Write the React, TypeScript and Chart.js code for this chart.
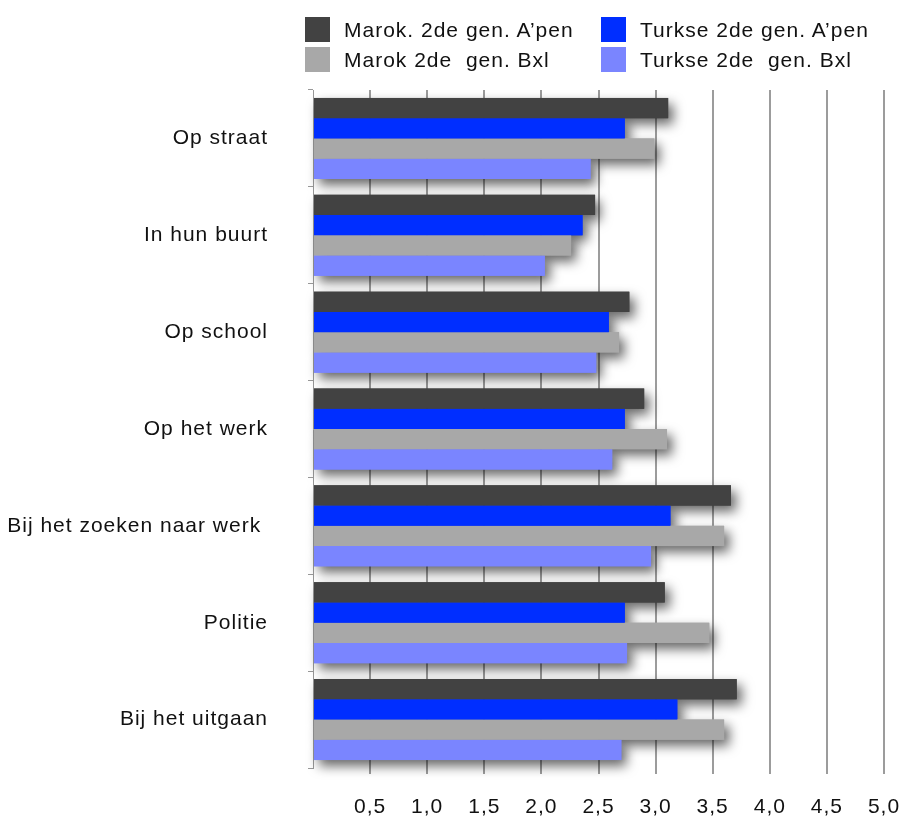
import React, { useEffect, useRef } from 'react';
import { Chart, registerables } from 'chart.js';

Chart.register(...registerables);

// ---------- data ----------
const categories = [
  'Op straat',
  'In hun buurt',
  'Op school',
  'Op het werk',
  'Bij het zoeken naar werk ',
  'Politie',
  'Bij het uitgaan',
];
const marokAntwerpen = [3.11, 2.47, 2.77, 2.9, 3.66, 3.08, 3.71];
const turkseAntwerpen = [2.73, 2.36, 2.59, 2.73, 3.13, 2.73, 3.19];
const marokBrussel = [2.99, 2.26, 2.68, 3.1, 3.6, 3.47, 3.6];
const turkseBrussel = [2.43, 2.03, 2.48, 2.62, 2.96, 2.75, 2.7];
const seriesNames = [
  'Marok. 2de gen. A\u2019pen',
  'Turkse 2de gen. A\u2019pen',
  'Marok 2de  gen. Bxl',
  'Turkse 2de  gen. Bxl',
];
const xTickLabels = ['', '0,5', '1,0', '1,5', '2,0', '2,5', '3,0', '3,5', '4,0', '4,5', '5,0'];

// ---------- styles ----------
const seriesColors = ['#424242', '#002EFF', '#A8A8A8', '#7A85FF'];
const FONT_FAMILY = '"Liberation Sans", Arial, Helvetica, sans-serif';
const FONT_SIZE = 21;
const LETTER_SPACING = '1px';

const letterSpacingPlugin = {
  id: 'letterSpacing',
  beforeUpdate(chart: any) {
    (chart.ctx as any).letterSpacing = LETTER_SPACING;
  },
  beforeDraw(chart: any) {
    (chart.ctx as any).letterSpacing = LETTER_SPACING;
  },
};

// Draws soft drop shadows for every bar first (using the bar elements' own geometry),
// so that the bars themselves are painted cleanly on top afterwards.
const shadowPlugin = {
  id: 'barShadow',
  beforeDatasetsDraw(chart: any) {
    const ctx = chart.ctx;
    ctx.save();
    ctx.shadowColor = 'rgba(0,0,0,0.6)';
    ctx.shadowBlur = 12;
    ctx.shadowOffsetX = 5;
    ctx.shadowOffsetY = 6;
    chart.data.datasets.forEach((ds: any, di: number) => {
      const meta = chart.getDatasetMeta(di);
      ctx.fillStyle = ds.backgroundColor;
      meta.data.forEach((el: any) => {
        const p = el.getProps(['x', 'y', 'base', 'height'], true);
        const left = Math.min(p.x, p.base);
        const w = Math.abs(p.x - p.base);
        ctx.fillRect(left, p.y - p.height / 2, w, p.height);
      });
    });
    ctx.restore();
  },
};

export default function App() {
  const canvasRef = useRef<HTMLCanvasElement | null>(null);

  useEffect(() => {
    const canvas = canvasRef.current;
    if (!canvas) return;
    const seriesData = [marokAntwerpen, turkseAntwerpen, marokBrussel, turkseBrussel];
    const chart = new Chart(canvas, {
      type: 'bar',
      data: {
        labels: categories,
        datasets: seriesData.map((d, i) => ({
          label: seriesNames[i],
          data: d,
          backgroundColor: seriesColors[i],
          borderWidth: 0,
          categoryPercentage: 0.836,
          barPercentage: 1.0,
          clip: false as any,
        })),
      },
      options: {
        indexAxis: 'y',
        animation: false,
        responsive: false,
        maintainAspectRatio: false,
        devicePixelRatio: 1,
        layout: { padding: { top: 90, right: 17, left: 0, bottom: 0 } },
        plugins: {
          legend: { display: false },
          tooltip: { enabled: false },
          title: { display: false },
        },
        scales: {
          x: {
            type: 'linear',
            min: 0,
            max: 5,
            position: 'bottom',
            afterFit: (scale: any) => {
              scale.height = 51;
              scale.paddingLeft = 0;
              scale.paddingRight = 0;
            },
            ticks: {
              stepSize: 0.5,
              autoSkip: false,
              maxRotation: 0,
              padding: 21,
              color: '#111',
              font: { family: FONT_FAMILY, size: FONT_SIZE },
              callback: (_v: any, index: number) => xTickLabels[index],
            },
            grid: {
              color: (c: any) => (c.tick && c.tick.value === 0 ? 'rgba(0,0,0,0)' : '#9c9c9c'),
              lineWidth: 2,
              tickLength: 6,
              drawTicks: true,
            },
            border: { display: false },
          },
          y: {
            type: 'category',
            position: 'left',
            afterFit: (scale: any) => {
              scale.width = 313;
              scale.paddingTop = 0;
              scale.paddingBottom = 0;
            },
            ticks: {
              padding: 40,
              color: '#111',
              font: { family: FONT_FAMILY, size: FONT_SIZE },
            },
            grid: {
              drawOnChartArea: false,
              drawTicks: true,
              tickLength: 5,
              color: '#999',
              lineWidth: 1,
            },
            border: { display: true, color: '#999', width: 1 },
          },
        },
      },
      plugins: [letterSpacingPlugin, shadowPlugin],
    } as any);
    return () => chart.destroy();
  }, []);

  const legendPos = [
    { left: 305, top: 17 },
    { left: 601, top: 17 },
    { left: 305, top: 47 },
    { left: 601, top: 47 },
  ];

  return (
    <div
      style={{
        position: 'absolute',
        left: 0,
        top: 0,
        width: 901,
        height: 819,
        background: '#ffffff',
        overflow: 'hidden',
      }}
    >
      <canvas ref={canvasRef} width={901} height={819} style={{ display: 'block' }} />
      {seriesNames.map((name, i) => (
        <div
          key={name}
          style={{
            position: 'absolute',
            left: legendPos[i].left,
            top: legendPos[i].top,
            height: 25,
            display: 'flex',
            alignItems: 'center',
            whiteSpace: 'pre',
          }}
        >
          <span
            style={{
              display: 'inline-block',
              width: 25,
              height: 25,
              background: seriesColors[i],
              marginRight: 14,
            }}
          />
          <span
            style={{
              fontFamily: FONT_FAMILY,
              fontSize: FONT_SIZE,
              letterSpacing: LETTER_SPACING,
              color: '#111',
              lineHeight: '25px',
            }}
          >
            {name}
          </span>
        </div>
      ))}
    </div>
  );
}
